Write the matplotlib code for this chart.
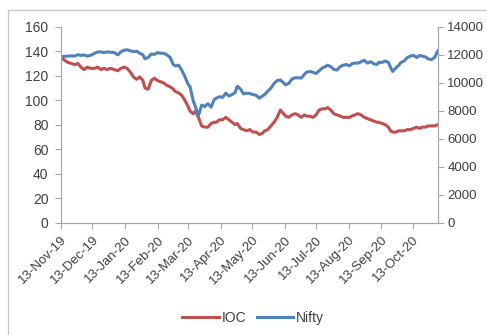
import matplotlib
matplotlib.use('Agg')
from matplotlib import pyplot as plt
from matplotlib.lines import Line2D
import matplotlib.dates as mdates
import pandas as pd

# Values (roughly every third day)
dates = ['2019-11-13', '2019-11-16', '2019-11-19', '2019-11-23', '2019-11-26', '2019-11-29',
	'2019-12-02', '2019-12-05', '2019-12-08', '2019-12-11', '2019-12-15', '2019-12-18',
	'2019-12-21', '2019-12-24', '2019-12-27', '2019-12-30', '2020-01-03', '2020-01-06',
	'2020-01-09', '2020-01-12', '2020-01-15', '2020-01-18', '2020-01-21', '2020-01-24',
	'2020-01-27', '2020-01-30', '2020-02-01', '2020-02-04', '2020-02-07', '2020-02-10',
	'2020-02-13', '2020-02-16', '2020-02-19', '2020-02-22', '2020-02-25', '2020-02-28',
	'2020-03-01', '2020-03-04', '2020-03-07', '2020-03-10', '2020-03-13', '2020-03-15',
	'2020-03-18', '2020-03-20', '2020-03-23', '2020-03-26', '2020-03-29', '2020-04-01',
	'2020-04-04', '2020-04-07', '2020-04-09', '2020-04-12', '2020-04-15', '2020-04-18',
	'2020-04-21', '2020-04-24', '2020-04-27', '2020-04-29', '2020-05-02', '2020-05-05',
	'2020-05-08', '2020-05-11', '2020-05-14', '2020-05-17', '2020-05-20', '2020-05-23',
	'2020-05-25', '2020-05-28', '2020-05-31', '2020-06-03', '2020-06-06', '2020-06-09',
	'2020-06-12', '2020-06-14', '2020-06-17', '2020-06-20', '2020-06-23', '2020-06-26',
	'2020-06-29', '2020-07-02', '2020-07-04', '2020-07-07', '2020-07-10', '2020-07-13',
	'2020-07-16', '2020-07-19', '2020-07-22', '2020-07-24', '2020-07-27', '2020-07-30',
	'2020-08-02', '2020-08-05', '2020-08-08', '2020-08-11', '2020-08-14', '2020-08-16',
	'2020-08-19', '2020-08-22', '2020-08-25', '2020-08-28', '2020-08-31', '2020-09-03',
	'2020-09-06', '2020-09-09', '2020-09-11', '2020-09-14', '2020-09-17', '2020-09-20',
	'2020-09-22', '2020-09-24', '2020-09-27', '2020-09-30', '2020-10-02', '2020-10-05',
	'2020-10-08', '2020-10-11', '2020-10-14', '2020-10-17', '2020-10-20', '2020-10-22',
	'2020-10-25', '2020-10-28', '2020-10-31', '2020-11-03', '2020-11-06']

ioc = [134, 133, 131, 130, 129, 130,
	127, 125, 127, 126, 126, 127,
	125, 126, 125, 126, 125, 124,
	126, 127, 126, 123, 119, 117,
	119, 116, 110, 109, 116, 118,
	116, 115, 114, 112, 111, 109,
	107, 106, 104, 100, 95, 91,
	89, 91, 86, 79, 78, 78,
	81, 82, 82, 84, 84, 86,
	84, 82, 80, 81, 77, 76,
	75, 76, 74, 74, 72, 73,
	75, 76, 79, 82, 86, 92,
	89, 87, 86, 88, 89, 88,
	86, 88, 87, 87, 86, 88,
	92, 93, 93, 94, 92, 89,
	88, 87, 86, 86, 86, 87,
	88, 89, 88, 86, 85, 84,
	83, 82, 82, 81, 80, 78,
	75, 74, 74, 75, 75, 75,
	76, 76, 77, 78, 77, 78,
	78, 79, 79, 79, 80]

nifty = [11840, 11880, 11900, 11920, 11900, 12000,
	11950, 11980, 11900, 11950, 12100, 12200,
	12200, 12150, 12200, 12180, 12150, 11980,
	12200, 12320, 12350, 12280, 12220, 12250,
	12100, 12000, 11700, 11800, 12050, 12020,
	12150, 12100, 12100, 11980, 11800, 11300,
	11200, 11250, 10900, 10450, 9900, 9700,
	8700, 8300, 7650, 8400, 8300, 8500,
	8250, 8800, 8900, 9000, 8950, 9250,
	9050, 9150, 9300, 9750, 9550, 9200,
	9250, 9230, 9150, 9100, 8900, 9050,
	9150, 9400, 9600, 9950, 10150, 10200,
	10000, 9850, 9950, 10250, 10350, 10350,
	10330, 10600, 10750, 10800, 10750, 10650,
	10850, 11050, 11150, 11250, 11150, 10950,
	10900, 11150, 11250, 11300, 11200, 11350,
	11400, 11400, 11500, 11600, 11400, 11500,
	11350, 11300, 11450, 11450, 11550, 11450,
	11100, 10800, 11050, 11250, 11450, 11550,
	11800, 11900, 11950, 11800, 11950, 11900,
	11850, 11700, 11650, 11800, 12260]

tick_dates = ['2019-11-13', '2019-12-13', '2020-01-13', '2020-02-13', '2020-03-13', '2020-04-13',
	'2020-05-13', '2020-06-13', '2020-07-13', '2020-08-13', '2020-09-13', '2020-10-13']

IOC_COLOR = '#C0504D'
NIFTY_COLOR = '#4F81BD'
GRAY = '#A6A6A6'

plt.rcParams['font.family'] = ['Liberation Sans', 'DejaVu Sans']
plt.rcParams['font.size'] = 9.5

x = pd.to_datetime(dates)
ticks = pd.to_datetime(tick_dates)

fig = plt.figure(figsize=(4.87, 3.35), dpi=100)
ax = fig.add_axes([0.1253, 0.3352, 0.7735, 0.5851])
ax2 = ax.twinx()

ax.plot(x, ioc, color=IOC_COLOR, lw=2.2)
ax2.plot(x, nifty, color=NIFTY_COLOR, lw=2.2)

ax.set_ylim(0, 160)
ax.set_yticks(range(0, 161, 20))
ax2.set_ylim(0, 14000)
ax2.set_yticks(range(0, 14001, 2000))
ax.set_xlim(x[0], x[-1])
ax.set_xticks(ticks)
ax.xaxis.set_major_formatter(mdates.DateFormatter('%d-%b-%y'))
plt.setp(ax.get_xticklabels(), rotation=45, ha='right', rotation_mode='anchor')

for a in (ax, ax2):
	a.spines['top'].set_visible(False)
	for side in ('left', 'right', 'bottom'):
		a.spines[side].set_color(GRAY)
	a.tick_params(colors=GRAY, labelcolor='#404040', length=4, width=0.8, labelsize=10)
ax.tick_params(axis='y', pad=5)
ax2.tick_params(axis='y', pad=3, labelsize=9.5)
ax.tick_params(axis='x', pad=4, labelsize=9.5)

handles = [Line2D([], [], color=IOC_COLOR, lw=2.2), Line2D([], [], color=NIFTY_COLOR, lw=2.2)]
fig.legend(handles, ['IOC', 'Nifty'], loc='center', bbox_to_anchor=(0.52, 0.05), ncol=2,
	frameon=False, handlelength=2.6, handletextpad=0.2, columnspacing=0.8,
	labelcolor='#404040', fontsize=10)

# Outer chart frame (only left and top edges show in the crop)
fig.add_artist(Line2D([8 / 487, 8 / 487], [0, 1 - 10 / 335], transform=fig.transFigure, color='#C8C8C8', lw=1))
fig.add_artist(Line2D([8 / 487, 1], [1 - 10 / 335, 1 - 10 / 335], transform=fig.transFigure, color='#C8C8C8', lw=1))

fig.savefig('out.png', dpi=100)
